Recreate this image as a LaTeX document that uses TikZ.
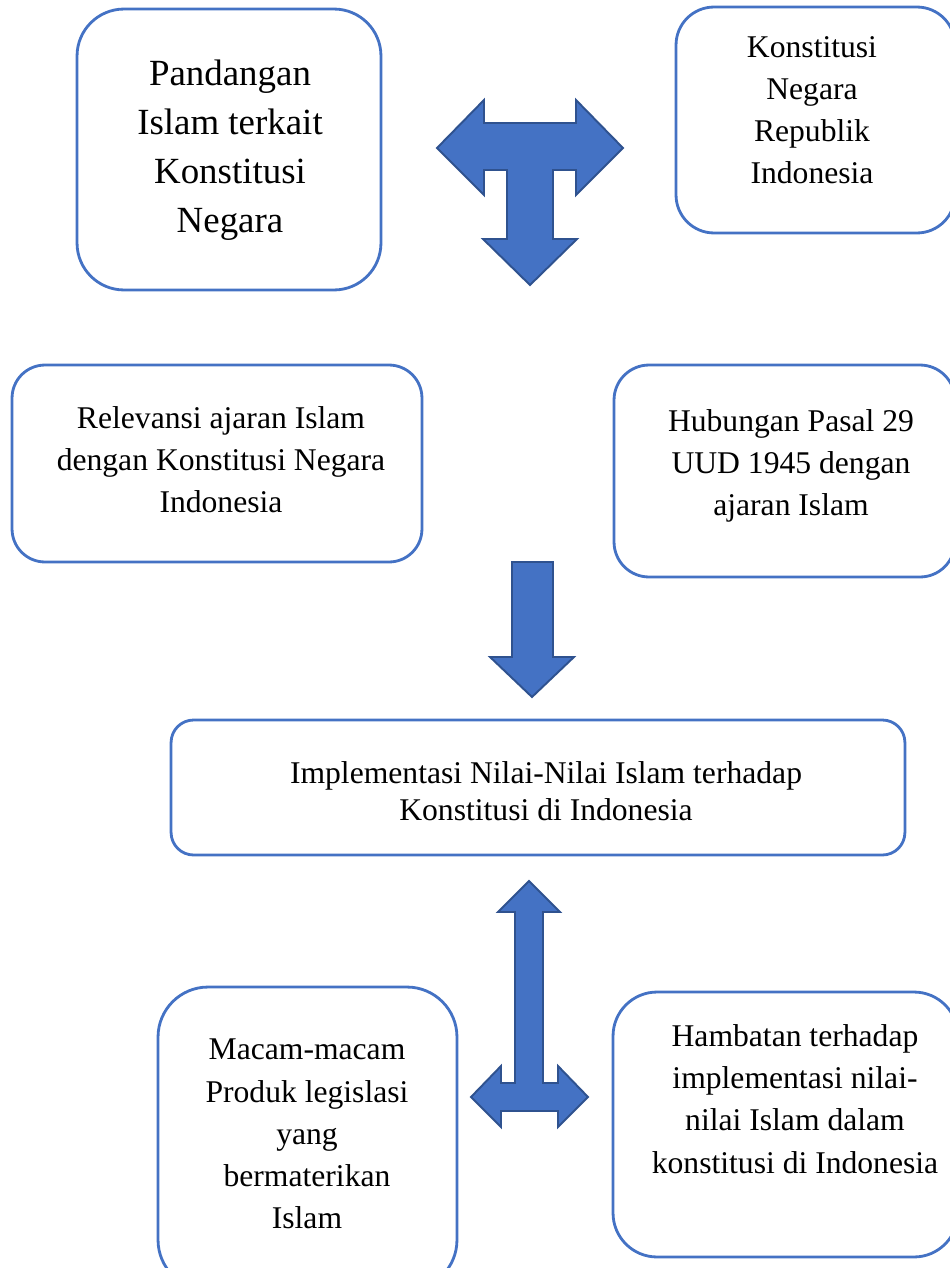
\documentclass[tikz,border=0pt]{standalone}
\usepackage{fontspec}
\setmainfont{Liberation Serif}
\definecolor{boxblue}{HTML}{4472C4}
\definecolor{arrowedge}{HTML}{2F528F}

\begin{document}
\begin{tikzpicture}[x=0.02cm,y=-0.02cm]
  \tikzstyle{box}=[rectangle,draw=boxblue,line width=1.6pt,inner sep=0pt]
  \tikzstyle{txt}=[align=center,inner sep=0pt,font=\fontsize{18}{24}\selectfont]
  \tikzstyle{blockarrow}=[fill=boxblue,draw=arrowedge,line width=1.1pt,line join=miter]

  \useasboundingbox (0,0) rectangle (950,1268);

  % boxes
  \node[box,minimum width=6.08cm,minimum height=5.62cm,rounded corners=0.94cm] (pandangan) at (229,149.5) {};
  \node[box,minimum width=5.58cm,minimum height=4.52cm,rounded corners=0.76cm] (konstitusi) at (815.5,120) {};
  \node[box,minimum width=8.2cm,minimum height=3.94cm,rounded corners=0.66cm]  (relevansi) at (217,463.5) {};
  \node[box,minimum width=6.82cm,minimum height=4.24cm,rounded corners=0.7cm]  (hubungan) at (784.5,471) {};
  \node[box,minimum width=14.68cm,minimum height=2.7cm,rounded corners=0.45cm] (implementasi) at (538,787.5) {};
  \node[box,minimum width=5.98cm,minimum height=6.06cm,rounded corners=1cm]    (macam) at (307.5,1138.5) {};
  \node[box,minimum width=6.9cm,minimum height=5.3cm,rounded corners=0.88cm]   (hambatan) at (785.5,1124.5) {};

  % texts
  \node[txt,font=\fontsize{21}{28}\selectfont] (pandanganText) at (230,150)
    {Pandangan\\Islam terkait\\Konstitusi\\Negara};
  \node[txt] (konstitusiText) at (812,110) {Konstitusi\\Negara\\Republik\\Indonesia};
  \node[txt] (relevansiText) at (221,460)
    {Relevansi ajaran Islam\\dengan Konstitusi Negara\\Indonesia};
  \node[txt] (hubunganText) at (791,466) {Hubungan Pasal 29\\UUD 1945 dengan\\ajaran Islam};
  \node[txt,font=\fontsize{18}{21}\selectfont] (implementasiText) at (546,791)
    {Implementasi Nilai-Nilai Islam terhadap\\Konstitusi di Indonesia};
  \node[txt] (macamText) at (307,1134)
    {Macam-macam\\Produk legislasi\\yang\\bermaterikan\\Islam};
  \node[txt] (hambatanText) at (795,1099)
    {Hambatan terhadap\\implementasi nilai-\\nilai Islam dalam\\konstitusi di Indonesia};

  % block arrows
  \draw[blockarrow] (437,148) -- (484,100) -- (484,123) -- (576,123) -- (576,100)
    -- (623,148) -- (576,195) -- (576,170) -- (553,170) -- (553,239) -- (577,239)
    -- (530,285) -- (483,239) -- (507,239) -- (507,170) -- (484,170) -- (484,195) -- cycle;

  \draw[blockarrow] (512,562) -- (553,562) -- (553,657) -- (574,657) -- (532,697)
    -- (490,657) -- (512,657) -- cycle;

  \draw[blockarrow] (529,881) -- (560,912) -- (543,912) -- (543,1083) -- (558,1083)
    -- (558,1066) -- (588,1097) -- (558,1127) -- (558,1111) -- (501,1111) -- (501,1127)
    -- (471,1097) -- (501,1066) -- (501,1083) -- (515,1083) -- (515,912) -- (498,912) -- cycle;
\end{tikzpicture}
\end{document}
